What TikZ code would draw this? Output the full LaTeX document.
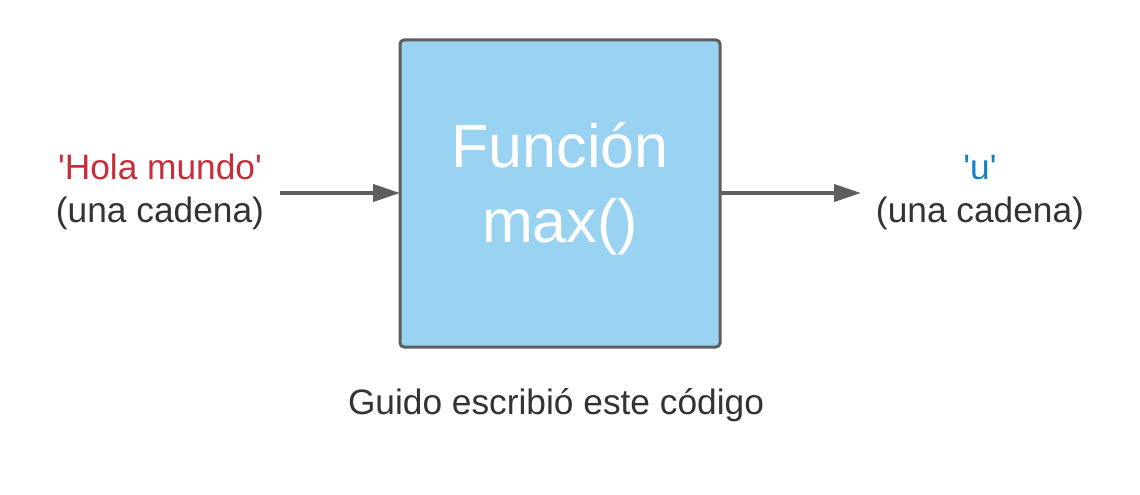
\documentclass[tikz,border=0pt]{standalone}
\usepackage{fontspec}
\setmainfont{Liberation Sans}
\usetikzlibrary{arrows.meta}
\definecolor{boxfill}{HTML}{9AD2F2}
\definecolor{edge}{HTML}{5E5E5E}
\definecolor{txt}{HTML}{333333}
\definecolor{redtxt}{HTML}{C92D39}
\definecolor{bluetxt}{HTML}{1680C0}
\tikzset{
  lbl/.style={font=\fontsize{35.3}{42}\selectfont, text=txt, anchor=base, inner sep=0pt},
  big/.style={font=\fontsize{61}{72}\selectfont, text=white, anchor=base, inner sep=0pt},
  conn/.style={draw=edge, line width=4pt, -{Triangle[length=27pt,width=17pt]}},
  fbox/.style={draw=edge, fill=boxfill, line width=3pt, rounded corners=4pt}
}
\begin{document}
\begin{tikzpicture}[x=1pt,y=-1pt]
\useasboundingbox (0,0) rectangle (1140,495);
\draw[fbox] (400,40) rectangle (720,347);
\coordinate (boxW) at (400,193);
\coordinate (boxE) at (720,193);
\node[big] (f1) at (560,167) {Función};
\node[big] (f2) at (560,242) {max()};
\node[lbl, text=redtxt] (in1) at (160,179) {\textquotesingle Hola mundo\textquotesingle};
\node[lbl] (in2) at (160,222) {(una cadena)};
\node[lbl, text=bluetxt] (out1) at (980,179) {\textquotesingle u\textquotesingle};
\node[lbl] (out2) at (980,222) {(una cadena)};
\node[lbl] (cap) at (556,414) {Guido escribió este código};
\coordinate (inS) at (280,193);
\coordinate (outE) at (861,193);
\draw[conn] (inS) -- (boxW);
\draw[conn] (boxE) -- (outE);
\end{tikzpicture}
\end{document}
